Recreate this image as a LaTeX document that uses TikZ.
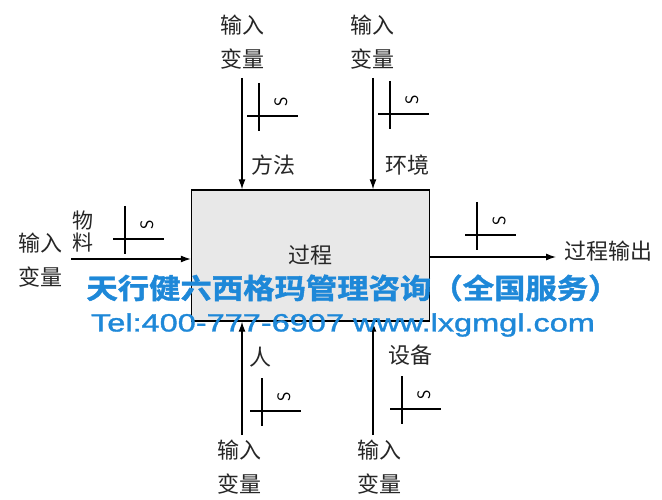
\documentclass[tikz,border=0pt]{standalone}
\usepackage{fontspec}
\setmainfont{Liberation Serif}
\newfontfamily\cjk{Noto Sans CJK SC}
\newfontfamily\cjkbold[FakeBold=1.5]{Noto Sans CJK SC Bold}
\newfontfamily\wmlat[FakeBold=1.2]{Liberation Sans}
\usetikzlibrary{arrows.meta}
\definecolor{wmblue}{RGB}{30,136,216}
\definecolor{boxgray}{RGB}{232,232,232}
\tikzset{
  lbl/.style={font=\cjk\fontsize{22}{34}\selectfont, align=center, inner sep=0pt, text=black!85},
  arr/.style={line width=1.2pt, -{Latex[length=10pt,width=7pt]}},
  crossline/.style={line width=1.1pt},
  sx/.pic={
    \draw[crossline] (0,-33) -- (0,15);
    \draw[crossline] (-12,0) -- (39,0);
    \node[rotate=90, inner sep=0pt, font=\sffamily\fontsize{18}{18}\selectfont] at (22,-14) {S};
  },
  wm/.style={text=wmblue, inner sep=0pt}
}
\begin{document}
\begin{tikzpicture}[x=1pt,y=-1pt]
\useasboundingbox (0,0) rectangle (662,500);
% process box
\node[draw, line width=1.4pt, fill=boxgray, minimum width=238pt, minimum height=131pt, inner sep=0pt] (P) at (310.5,255.5) {};
\node[lbl] (Pt) at (310,255) {过程};

% top left
\node[lbl] (in1) at (242,42) {输入\\变量};
\coordinate (a1) at (242,78);
\draw[arr] (a1) -- (a1 |- P.north);
\pic at (259,116) {sx};
\node[lbl] (m1) at (273,165) {方法};

% top right
\node[lbl] (in2) at (372,42) {输入\\变量};
\coordinate (a2) at (373,78);
\draw[arr] (a2) -- (a2 |- P.north);
\pic at (390,114) {sx};
\node[lbl] (m2) at (407,165) {环境};

% left
\node[lbl] (in3) at (40,260.5) {输入\\变量};
\node[lbl, font=\cjk\fontsize{21}{22}\selectfont] (m3) at (83,232) {物\\料};
\coordinate (a3) at (71,259);
\draw[arr] (a3) -- (a3 -| P.west);
\pic at (125,239) {sx};

% right
\coordinate (o4) at (556,257);
\draw[arr] (o4 -| P.east) -- (o4);
\node[lbl, anchor=west] (out) at ([xshift=8pt,yshift=6pt]o4) {过程输出};
\pic at (477,235) {sx};

% bottom left
\node[lbl] (in5) at (239,467.5) {输入\\变量};
\coordinate (a5) at (242,435);
\draw[arr] (a5) -- (a5 |- P.south);
\pic at (262,411) {sx};
\node[lbl] (m5) at (260,357) {人};

% bottom right
\node[lbl] (in6) at (379,467.5) {输入\\变量};
\coordinate (a6) at (373,435);
\draw[arr] (a6) -- (a6 |- P.south);
\pic at (402,409) {sx};
\node[lbl] (m6) at (410,355) {设备};

% watermark
\node[wm] (w1) at (353,288) {\scalebox{1.12}[1]{\cjkbold\fontsize{28}{28}\selectfont 天行健六西格玛管理咨询（全国服务）}};
\node[wm] (w2) at (343,325) {\scalebox{1.3}[1]{\wmlat\fontsize{25}{25}\selectfont Tel:400-777-6907 www.lxgmgl.com}};
\end{tikzpicture}
\end{document}
